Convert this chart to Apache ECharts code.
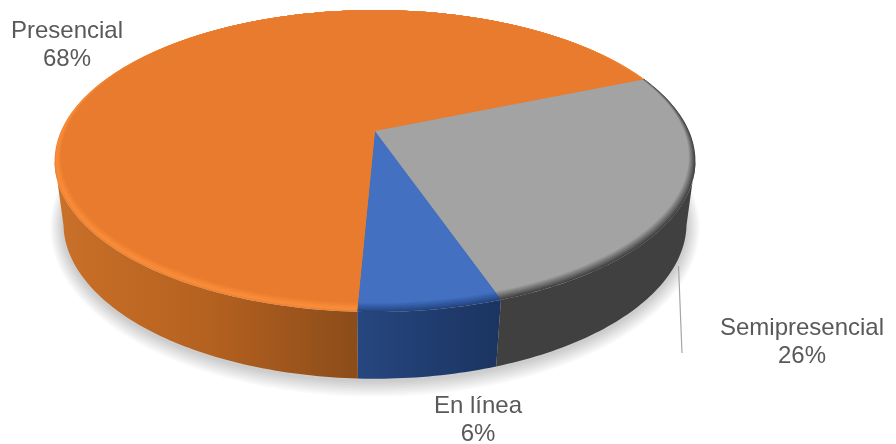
<!DOCTYPE html>
<html>
<head>
<meta charset="utf-8">
<style>
  html, body { margin: 0; background: #fff; }
  #chart { width: 896px; height: 444px; }
</style>
<script src="https://cdn.jsdelivr.net/npm/echarts@6/dist/echarts.min.js"></script>
</head>
<body>
<div id="chart"></div>
<script>
const categories = ['En línea', 'Presencial', 'Semipresencial']
const values = [6, 68, 26]

// tilted disc: each ring is a circle seen in perspective, apex stays at u=v=0
const firstAngle = -19
const apexX = 375
const faceRing = { ay: 131, rx: 309, ry: 142, k: 0.174 }
const rimRing = { ay: 131, rx: 314, ry: 145, k: 0.199 }
const baseRing = { ay: 194, rx: 306, ry: 150, k: 0.188 }
const bevelSteps = 10
const shadowSteps = 10
// the wall only shows between the widest points of the rim
const wallLimit = 78.5

const faceRamps = [
  [[0, '#24437a'], [0.3, '#2c5296'], [1, '#4370c1']],
  [[0, '#ee8233'], [0.25, '#fb8e3a'], [1, '#e97b2e']],
  [[0, '#404040'], [1, '#a3a3a3']],
]
const wallStops = [
  [[0, '#26467f'], [1, '#1b3461']],
  [[0, '#c97029'], [0.5, '#b5611f'], [1, '#8a4c1a']],
  [[0, '#404040'], [1, '#404040']],
]
const wallSpan = [[360, 498], [58, 360], [498, 690]]
const labelSpots = [[478, 420], [67, 45], [802, 342]]

const total = values.reduce((a, b) => a + b, 0)

function toRgb(hex) {
  return [1, 3, 5].map(i => parseInt(hex.slice(i, i + 2), 16))
}

function ramp(stops, t) {
  for (let i = 1; i < stops.length; i++) {
    if (t <= stops[i][0]) {
      const f = (t - stops[i - 1][0]) / (stops[i][0] - stops[i - 1][0])
      const a = toRgb(stops[i - 1][1])
      const b = toRgb(stops[i][1])
      return 'rgb(' + a.map((c, j) => Math.round(c + (b[j] - c) * f)).join(',') + ')'
    }
  }
  return stops[stops.length - 1][1]
}

function mixRing(a, b, t) {
  return {
    ay: a.ay + (b.ay - a.ay) * t,
    rx: a.rx + (b.rx - a.rx) * t,
    ry: a.ry + (b.ry - a.ry) * t,
    k: a.k + (b.k - a.k) * t,
  }
}

// angle is clockwise on screen, 0 at the front of the disc
function project(ring, deg) {
  const a = deg * Math.PI / 180
  const u = -Math.sin(a)
  const v = Math.cos(a)
  const d = 1 - ring.k * v
  return [apexX + ring.rx * u / d, ring.ay + ring.ry * v / d]
}

function arc(ring, from, to) {
  const pts = []
  const n = Math.max(2, Math.ceil(to - from))
  for (let i = 0; i <= n; i++) pts.push(project(ring, from + (to - from) * i / n))
  return pts
}

function visibleWall(from, to) {
  for (const turn of [0, 360]) {
    const lo = Math.max(from, turn - wallLimit)
    const hi = Math.min(to, turn + wallLimit)
    if (hi > lo) return [lo, hi]
  }
  return null
}

function renderSlice(params, api) {
  const idx = params.dataIndex
  let from = firstAngle
  for (let i = 0; i < idx; i++) from += values[i] / total * 360
  const to = from + api.value(0) / total * 360
  const children = []

  if (idx === 0) {
    // soft shadow under the disc, stacked see-through rings
    for (let s = 1; s <= shadowSteps; s++) {
      const ring = { ay: baseRing.ay + 2, rx: baseRing.rx + s * 1.3, ry: baseRing.ry + s * 1.3, k: baseRing.k }
      children.push({
        type: 'polygon',
        z2: 0,
        shape: { points: arc(ring, 0, 360) },
        style: { fill: 'rgba(0,0,0,0.02)' },
      })
    }
    children.push({
      type: 'line',
      z2: 1,
      shape: { x1: 678.5, y1: 266, x2: 682, y2: 353 },
      style: { stroke: '#a6a6a6', lineWidth: 1.2 },
    })
  }

  const wall = visibleWall(from, to)
  if (wall) {
    children.push({
      type: 'polygon',
      z2: 2,
      shape: { points: arc(rimRing, wall[0], wall[1]).concat(arc(baseRing, wall[0], wall[1]).reverse()) },
      style: {
        fill: {
          type: 'linear',
          global: true,
          x: wallSpan[idx][0], y: 0, x2: wallSpan[idx][1], y2: 0,
          colorStops: wallStops[idx].map(s => ({ offset: s[0], color: s[1] })),
        },
      },
    })
  }

  for (let s = 0; s <= bevelSteps; s++) {
    const t = s / bevelSteps
    children.push({
      type: 'polygon',
      z2: 3 + s,
      shape: { points: [[apexX, faceRing.ay]].concat(arc(mixRing(rimRing, faceRing, t), from, to)) },
      style: { fill: ramp(faceRamps[idx], t) },
    })
  }

  children.push({
    type: 'text',
    z2: 30,
    x: labelSpots[idx][0],
    y: labelSpots[idx][1],
    style: {
      text: categories[idx] + '\n' + api.value(0) + '%',
      fill: '#595959',
      font: '24px "Liberation Sans", Arial, sans-serif',
      lineHeight: 28,
      align: 'center',
      verticalAlign: 'middle',
    },
  })

  return { type: 'group', children }
}

const chart = echarts.init(document.getElementById('chart'), null, { renderer: 'canvas' })
chart.setOption({
  animation: false,
  backgroundColor: '#fff',
  series: [{
    type: 'custom',
    coordinateSystem: 'none',
    renderItem: renderSlice,
    data: categories.map((name, i) => ({ name, value: [values[i]] })),
  }],
})
</script>
</body>
</html>
